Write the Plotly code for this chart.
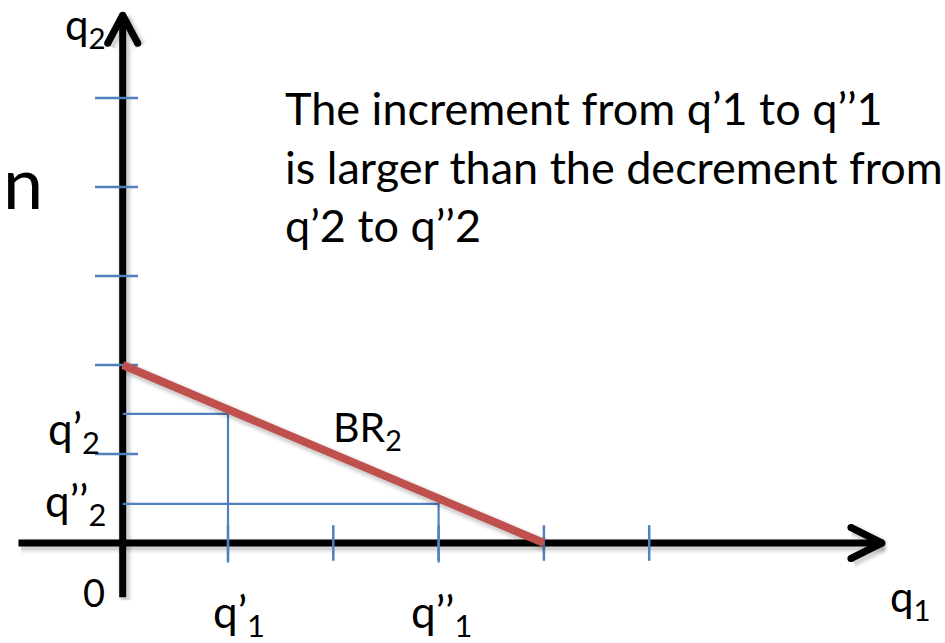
import plotly.graph_objects as go

# Best-response line BR2: runs from its q2-intercept down to its q1-intercept
br2_q1 = [0, 4]
br2_q2 = [2, 0]

# Two quantity pairs
q1_prime, q2_prime = 1.0, 1.45
q1_dprime, q2_dprime = 3.0, 0.44

# Tick positions on each axis
x_ticks = [1, 2, 3, 4, 5]
y_ticks = [1, 2, 3, 4, 5]

# Axis extents (drawn axes, not plotly axes)
x_axis_span = [-0.99, 7.21]
y_axis_span = [-0.61, 5.93]

BLACK = "#000000"
BLUE = "#4F81BD"
RED = "#C0504D"
FONT = "Lato"

# pixel scale of one data unit (figure uses a fixed 945x643 canvas)
UX, UY = 105.3, 89.0
X_RANGE = [-122.7 / UX, (945 - 122.7) / UX]
Y_RANGE = [(543 - 643) / UY, 543 / UY]

fig = go.Figure()


def seg(xs, ys, color, width, shadow=False, name=None):
    if shadow:
        for w, a in ((width + 8, 0.04), (width + 4, 0.06), (width + 1, 0.08)):
            fig.add_trace(go.Scatter(
                x=[v + 2.5 / UX for v in xs], y=[v - 3 / UY for v in ys],
                mode="lines", line=dict(color=f"rgba(0,0,0,{a})", width=w),
                hoverinfo="skip", showlegend=False))
    fig.add_trace(go.Scatter(x=xs, y=ys, mode="lines",
                             line=dict(color=color, width=width),
                             hoverinfo="skip", showlegend=False, name=name))


# main axes with soft shadow
seg(x_axis_span, [0, 0], BLACK, 7, shadow=True)
seg([0, 0], y_axis_span, BLACK, 7, shadow=True)

# arrow heads (open chevrons)
ax_tip = x_axis_span[1]
ay_tip = y_axis_span[1]
hx, hy = 31 / UX, 15.5 / UY
seg([ax_tip - hx, ax_tip, ax_tip - hx], [hy, 0, -hy], BLACK, 7, shadow=True)
vx, vy = 15 / UX, 28 / UY
seg([-vx, 0, vx], [ay_tip - vy, ay_tip, ay_tip - vy], BLACK, 7, shadow=True)
# rounded ends on chevrons
fig.add_trace(go.Scatter(
    x=[ax_tip - hx, ax_tip - hx, ax_tip, -vx, vx, 0],
    y=[hy, -hy, 0, ay_tip - vy, ay_tip - vy, ay_tip],
    mode="markers", marker=dict(color=BLACK, size=7, line=dict(width=0)),
    hoverinfo="skip", showlegend=False))

# blue ticks
tick_half_x = 0.2
for t in x_ticks:
    seg([t, t], [-tick_half_x, tick_half_x], BLUE, 2.5)
for t in y_ticks:
    seg([-0.263, 0.145], [t, t], BLUE, 2.5)


def br2_at(q1):
    slope = (br2_q2[1] - br2_q2[0]) / (br2_q1[1] - br2_q1[0])
    return br2_q2[0] + slope * (q1 - br2_q1[0])


# guide lines
for q1v, q2v in ((q1_prime, q2_prime), (q1_dprime, q2_dprime)):
    seg([0, q1v], [q2v, q2v], BLUE, 2.2)
    seg([q1v, q1v], [-tick_half_x - 0.02, br2_at(q1v) + 0.04], BLUE, 2.2)

# BR2 line with shadow
seg(br2_q1, br2_q2, RED, 8, shadow=True, name="BR2")

# labels
def label(text, x, y, size, xanchor="left", yanchor="middle", align="left"):
    fig.add_annotation(x=x, y=y, text=text, showarrow=False, xref="x", yref="y",
                       xanchor=xanchor, yanchor=yanchor, align=align,
                       font=dict(family=FONT, size=size, color=BLACK))


label("q<sub>2</sub>", -0.57, 5.80, 42)
label("q<sub>1</sub>", 7.27, -0.63, 42)
label("0", -0.40, -0.55, 38)
label("q’<sub>2</sub>", -0.73, q2_prime - 0.2, 44)
label("q’’<sub>2</sub>", -0.76, q2_dprime, 44)
label("q’<sub>1</sub>", q1_prime - 0.16, -0.80, 44)
label("q’’<sub>1</sub>", q1_dprime - 0.28, -0.80, 44)
label("BR<sub>2</sub>", 1.98, 1.27, 41)
label("n", -1.16, 4.07, 72)
label("The increment from q’1 to q’’1<br>is larger than the decrement from<br>q’2 to q’’2",
      1.52, 5.21, 45, yanchor="top")

fig.update_layout(
    width=945, height=643,
    margin=dict(l=0, r=0, t=0, b=0),
    paper_bgcolor="white", plot_bgcolor="white",
    xaxis=dict(range=X_RANGE, visible=False, fixedrange=True),
    yaxis=dict(range=Y_RANGE, visible=False, fixedrange=True),
    showlegend=False,
)

fig.write_html("out.html")
